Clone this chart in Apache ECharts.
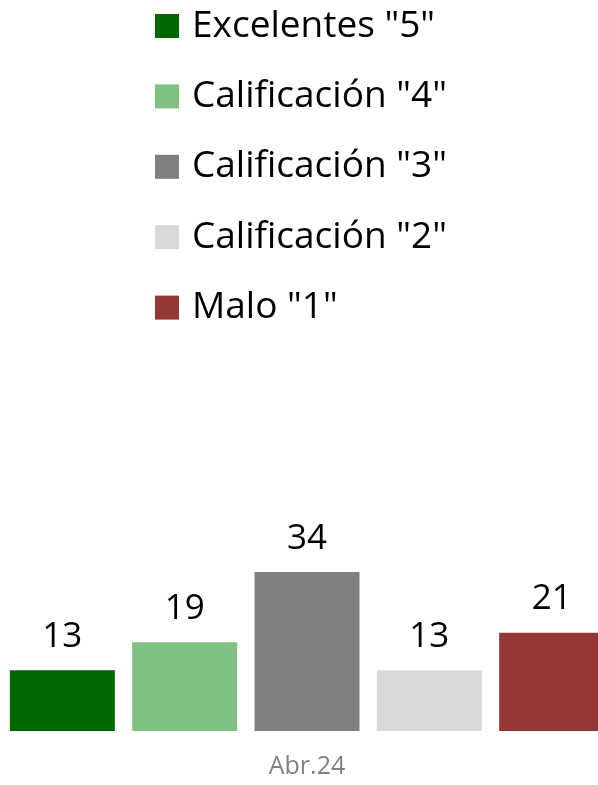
<!DOCTYPE html>
<html>
<head>
<meta charset="utf-8">
<script src="https://cdn.jsdelivr.net/npm/echarts@6/dist/echarts.min.js"></script>
<style>
  html, body { margin: 0; padding: 0; background: #ffffff; }
  #chart { width: 598px; height: 785px; }
</style>
</head>
<body>
<div id="chart"></div>
<script>
// Survey grades for the period
const categories = ['Abr.24'];
const seriesNames = ['Excelentes "5"', 'Calificación "4"', 'Calificación "3"', 'Calificación "2"', 'Malo "1"'];
const seriesValues = [13, 19, 34, 13, 21];
const seriesColors = ['#006600', '#80c080', '#808080', '#d9d9d9', '#953735'];

const FONT = '"Open Sans", Lato, sans-serif';

const chart = echarts.init(document.getElementById('chart'), null, { renderer: 'canvas' });

const series = seriesNames.map((name, i) => ({
  name: name,
  type: 'bar',
  data: [seriesValues[i]],
  barWidth: 105,
  barGap: '16.5%',
  clip: false,
  itemStyle: { color: seriesColors[i] },
  label: {
    show: true,
    position: 'top',
    distance: 16,
    color: '#000000',
    fontFamily: FONT,
    fontSize: 35
  }
}));

chart.setOption({
  animation: false,
  legend: {
    orient: 'vertical',
    left: 155,
    top: 3,
    padding: 0,
    itemWidth: 24,
    itemHeight: 24,
    itemGap: 24.4,
    icon: 'rect',
    data: seriesNames,
    textStyle: {
      color: '#000000',
      fontFamily: FONT,
      fontSize: 37,
      lineHeight: 46,
      padding: [0, 0, 0, 8]
    }
  },
  grid: { left: 16, right: 0, top: 544, bottom: 54 },
  xAxis: {
    type: 'category',
    data: categories,
    axisLine: { show: false },
    axisTick: { show: false },
    axisLabel: {
      margin: 23,
      color: '#808080',
      fontFamily: FONT,
      fontSize: 25
    }
  },
  yAxis: {
    type: 'value',
    min: 0,
    max: 40,
    show: false,
    splitLine: { show: false }
  },
  series: series
});
</script>
</body>
</html>
